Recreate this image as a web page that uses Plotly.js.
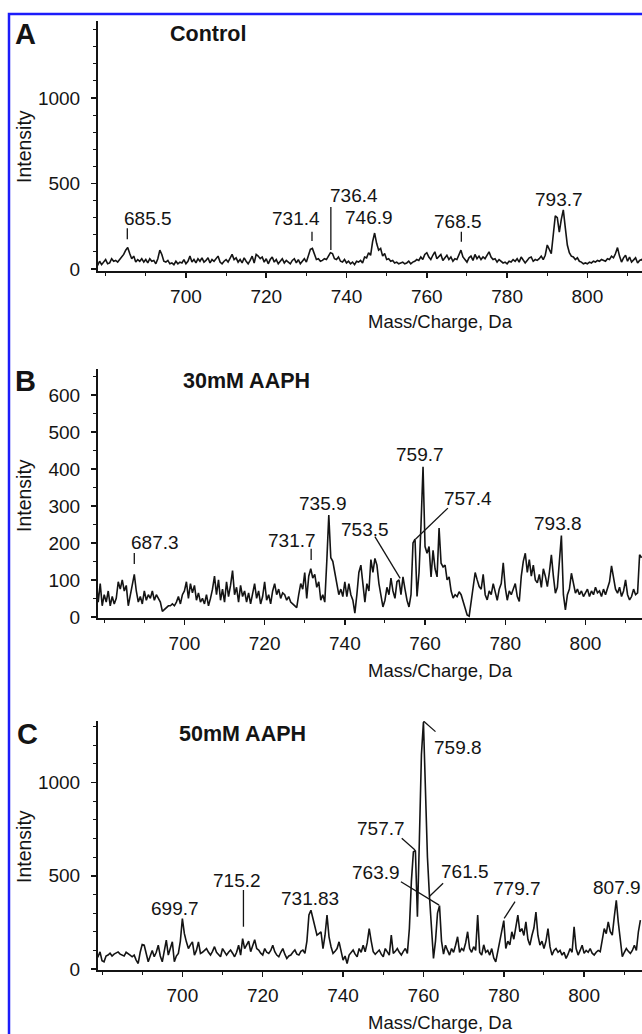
<!DOCTYPE html>
<html><head><meta charset="utf-8">
<script src="https://cdn.plot.ly/plotly-3.0.1.min.js"></script>
<style>html,body{margin:0;padding:0;background:#fff;}#chart{width:642px;height:1034px;}</style>
</head><body><div id="chart"></div>
<script>
// m/z grid: first value and spacing (Da)
const mzStart = 678;
const mzStep = 0.5;

// Intensities, one value per 0.5 Da from 678.0 to 814.0
const controlIntensity = [
 20,45,25,40,55,30,35,60,45,50,
 40,55,70,85,110,125,90,60,75,40,
 55,45,60,40,55,35,60,45,50,30,
 60,110,85,45,40,50,30,35,25,45,
 30,40,35,55,30,45,75,40,55,35,
 60,45,65,40,50,65,35,55,45,60,
 75,40,30,45,55,40,60,85,55,65,
 40,55,35,65,45,30,50,75,35,85,
 75,60,70,40,60,30,55,70,40,55,
 30,45,60,35,50,40,30,50,60,35,
 55,30,45,60,40,75,115,120,80,55,
 60,45,50,60,55,80,95,90,60,55,
 70,45,40,55,35,45,30,40,25,45,
 40,50,35,70,65,95,80,160,210,150,
 110,120,75,90,55,60,45,50,35,40,
 30,35,40,30,35,45,30,40,45,55,
 50,70,55,85,95,70,55,80,100,60,
 70,85,50,65,80,55,70,45,60,55,
 80,110,70,55,40,65,75,50,85,60,
 75,55,70,60,85,100,70,55,60,40,
 55,45,35,40,30,45,40,55,45,60,
 40,70,55,35,50,65,70,45,55,50,
 60,75,55,80,140,110,90,200,310,300,
 215,290,345,240,140,95,75,70,55,65,
 45,40,30,35,30,40,35,45,40,50,
 45,55,50,45,60,55,75,65,90,125,
 75,40,65,80,45,70,40,55,65,35,
 50,55,40];

const aaph30Intensity = [
 100,40,90,30,60,40,70,30,55,35,
 50,95,75,100,70,85,30,60,80,115,
 70,40,55,35,70,45,60,50,70,45,
 60,50,40,15,20,25,30,30,35,30,
 40,55,35,60,70,95,50,90,65,85,
 45,65,40,50,35,60,30,50,75,110,
 60,100,45,75,40,95,55,85,125,60,
 80,40,85,55,70,40,65,35,60,90,
 50,70,35,55,95,45,60,35,70,90,
 60,75,50,65,60,45,55,40,35,30,
 25,60,90,75,120,50,110,130,105,115,
 80,95,45,60,40,150,275,160,150,120,
 90,60,75,55,95,55,90,60,45,10,
 60,120,140,80,40,90,70,155,120,158,
 140,90,60,27,45,80,60,105,70,50,
 95,100,60,108,75,45,27,60,200,210,
 55,120,250,406,190,172,190,108,180,130,
 108,240,145,135,140,100,108,70,51,60,
 55,68,60,40,19,5,2,40,90,120,
 100,82,75,115,60,46,70,60,90,70,
 45,75,90,146,80,45,70,60,75,90,
 55,42,110,150,172,120,155,110,140,100,
 92,115,80,130,110,82,120,168,110,64,
 80,140,220,60,19,60,75,118,85,64,
 75,60,70,55,65,75,55,70,60,80,
 65,70,55,75,60,80,95,138,100,75,
 64,80,55,70,100,60,46,55,75,60,
 65,168,160];

const aaph50Intensity = [
 80,70,66,92,45,39,70,75,85,70,
 80,85,92,80,75,70,90,80,75,66,
 75,48,30,90,132,128,80,39,70,100,
 66,90,128,70,39,90,155,75,110,146,
 39,70,84,150,271,190,146,110,130,146,
 75,100,146,84,90,100,110,90,75,95,
 120,90,75,66,110,95,75,90,102,85,
 66,90,128,75,163,110,130,150,93,120,
 157,110,102,85,75,110,90,84,100,128,
 93,75,66,90,110,80,57,70,75,90,
 102,80,75,95,102,84,150,290,315,271,
 220,182,190,200,110,180,289,173,120,84,
 95,110,146,100,48,70,30,75,90,102,
 80,66,110,90,128,93,140,217,150,93,
 79,90,102,80,66,110,90,75,182,84,
 95,110,90,75,95,110,84,217,470,628,
 636,280,700,1150,1325,950,600,390,200,57,
 150,300,340,150,80,128,100,75,110,90,
 128,173,90,110,100,140,200,110,90,120,
 100,289,90,75,130,90,100,75,110,60,
 39,90,140,200,260,110,150,130,200,160,
 230,289,200,217,180,253,160,128,180,220,
 306,180,128,150,110,150,217,120,75,100,
 110,90,100,75,90,57,80,110,90,226,
 110,75,100,128,84,100,90,110,85,75,
 90,100,93,150,217,190,253,200,182,280,
 369,250,150,66,90,110,95,84,100,128,
 100,200,262];

// Text
const panelLetters = ['A', 'B', 'C'];
const panelTitles = ['Control', '30mM AAPH', '50mM AAPH'];
const xTitle = 'Mass/Charge, Da';
const yTitle = 'Intensity';
const xTickVals = [700, 720, 740, 760, 780, 800];
const xMinorTickVals = [680, 690, 710, 730, 750, 770, 790, 810];
const peakLabelsA = ['685.5', '731.4', '736.4', '746.9', '768.5', '793.7'];
const peakLabelsB = ['687.3', '731.7', '735.9', '753.5', '757.4', '759.7', '793.8'];
const peakLabelsC = ['699.7', '715.2', '731.83', '757.7', '763.9', '759.8', '761.5', '779.7', '807.9'];

// ---------- layout (positions / styles) ----------
const W = 642, H = 1034;
const FONT = 'Arial, "Liberation Sans", sans-serif';
const INK = '#141414';
const px = (x) => x / W;
const py = (y) => 1 - y / H;

// panel geometry in pixels: y-axis top, x-axis line, x and y ranges
const panels = [
  {top: 21,  bottom: 271, xr: [678.1, 813.6], yr: [-12, 1450], ydt: 500, ymin: 100, labelY: 34,  introY: 146, titleY: 321, titleX: 208, letterX: 25},
  {top: 369, bottom: 618, xr: [678.45, 814.1], yr: [-3, 670],  ydt: 100, ymin: 50,  labelY: 381, introY: 495, titleY: 670, titleX: 246, letterX: 25},
  {top: 721, bottom: 970, xr: [679.0, 814.4], yr: [-5, 1330],  ydt: 500, ymin: 100, labelY: 734, introY: 846, titleY: 1022, titleX: 242, letterX: 27}
];

// label placements in data coordinates: [textX, textY, leader x0, y0, x1, y1]
const placeA = [
  [690.6, 296, 685.4, 238, 685.4, 173],
  [727.4, 296, 731.4, 218, 731.4, 163],
  [741.9, 427, 736.1, 362, 736.1, 111],
  [745.7, 298],
  [767.7, 276, 768.6, 218, 768.6, 159],
  [792.9, 407]
];
const placeB = [
  [692.7, 200, 687.5, 173, 687.5, 143],
  [726.8, 206, 731.6, 184, 731.6, 154],
  [734.6, 307],
  [745.0, 235, 747.5, 217, 753.8, 104],
  [770.8, 321, 765.7, 294, 757.6, 210],
  [758.8, 438],
  [793.2, 253]
];
const placeC = [
  [698.2, 326],
  [713.5, 477, 715.2, 424, 715.2, 227],
  [731.8, 376],
  [749.4, 751, 754.6, 701, 757.9, 638],
  [748.2, 517, 754.4, 468, 763.9, 343],
  [768.7, 1187, 760.0, 1330, 763.0, 1273],
  [770.3, 522, 764.9, 460, 761.4, 388],
  [783.2, 433, 782.8, 361, 780.1, 272],
  [808.1, 436]
];

const series = [controlIntensity, aaph30Intensity, aaph50Intensity];
const labels = [peakLabelsA, peakLabelsB, peakLabelsC];
const places = [placeA, placeB, placeC];

const data = [];
const layout = {
  width: W, height: H,
  margin: {l: 0, r: 0, t: 0, b: 0},
  paper_bgcolor: '#fff', plot_bgcolor: 'rgba(0,0,0,0)',
  showlegend: false,
  font: {family: FONT, color: INK, size: 19},
  annotations: [], shapes: []
};

panels.forEach((p, i) => {
  const n = i === 0 ? '' : String(i + 1);
  const xName = 'x' + n, yName = 'y' + n;
  data.push({
    type: 'scatter', mode: 'lines', x0: mzStart, dx: mzStep, y: series[i],
    xaxis: xName, yaxis: yName, hoverinfo: 'skip',
    line: {color: INK, width: 1.6}
  });
  layout['xaxis' + n] = {
    domain: [px(98), 1], anchor: yName, range: p.xr,
    tickmode: 'array', tickvals: xTickVals,
    ticks: 'outside', ticklen: 5, tickwidth: 1.5, tickcolor: INK,
    showline: true, linecolor: INK, linewidth: 2,
    showgrid: false, zeroline: false, fixedrange: true,
    tickfont: {family: FONT, size: 19, color: INK}, ticklabelstandoff: 2,
    minor: {tickmode: 'array', tickvals: xMinorTickVals, ticks: 'outside', ticklen: 3, tickwidth: 1, tickcolor: INK, showgrid: false}
  };
  layout['yaxis' + n] = {
    domain: [py(p.bottom), py(p.top)], anchor: xName, range: p.yr,
    tickmode: 'linear', tick0: 0, dtick: p.ydt,
    ticks: 'outside', ticklen: 5, tickwidth: 1.5, tickcolor: INK,
    showline: true, linecolor: INK, linewidth: 2,
    showgrid: false, zeroline: false, fixedrange: true,
    tickfont: {family: FONT, size: 19, color: INK}, ticklabelstandoff: 7,
    minor: {tickmode: 'linear', tick0: 0, dtick: p.ymin, ticks: 'outside', ticklen: 3, tickwidth: 1, tickcolor: INK, showgrid: false}
  };
  // panel letter, condition title, axis titles
  layout.annotations.push(
    {xref: 'paper', yref: 'paper', x: px(p.letterX), y: py(p.labelY), text: '<b>' + panelLetters[i] + '</b>', showarrow: false, xanchor: 'center', yanchor: 'middle', font: {family: FONT, size: 29, color: INK}},
    {xref: 'paper', yref: 'paper', x: px(p.titleX), y: py(p.labelY), text: '<b>' + panelTitles[i] + '</b>', showarrow: false, xanchor: 'center', yanchor: 'middle', font: {family: FONT, size: 21.5, color: INK}},
    {xref: 'paper', yref: 'paper', x: px(440), y: py(p.titleY), text: xTitle, showarrow: false, xanchor: 'center', yanchor: 'middle', font: {family: FONT, size: 18.5, color: INK}},
    {xref: 'paper', yref: 'paper', x: px(24), y: py(p.introY), text: yTitle, textangle: -90, showarrow: false, xanchor: 'center', yanchor: 'middle', font: {family: FONT, size: 19.5, color: INK}}
  );
  // peak labels and leader lines
  labels[i].forEach((t, k) => {
    const q = places[i][k];
    layout.annotations.push({xref: xName, yref: yName, x: q[0], y: q[1], text: t, showarrow: false,
      xanchor: 'center', yanchor: 'middle', font: {family: FONT, size: 19, color: INK}});
    if (q.length > 2) {
      layout.shapes.push({type: 'line', xref: xName, yref: yName, x0: q[2], y0: q[3], x1: q[4], y1: q[5],
        line: {color: INK, width: 1.3}});
    }
  });
});

// blue frame around the figure
layout.shapes.push({type: 'rect', xref: 'paper', yref: 'paper', x0: px(9), x1: 1.05, y0: -0.05, y1: py(14),
  line: {color: 'rgb(28,28,250)', width: 2.5}, fillcolor: 'rgba(0,0,0,0)', layer: 'above'});

Plotly.newPlot('chart', data, layout, {staticPlot: true, displayModeBar: false});
</script>
</body></html>
